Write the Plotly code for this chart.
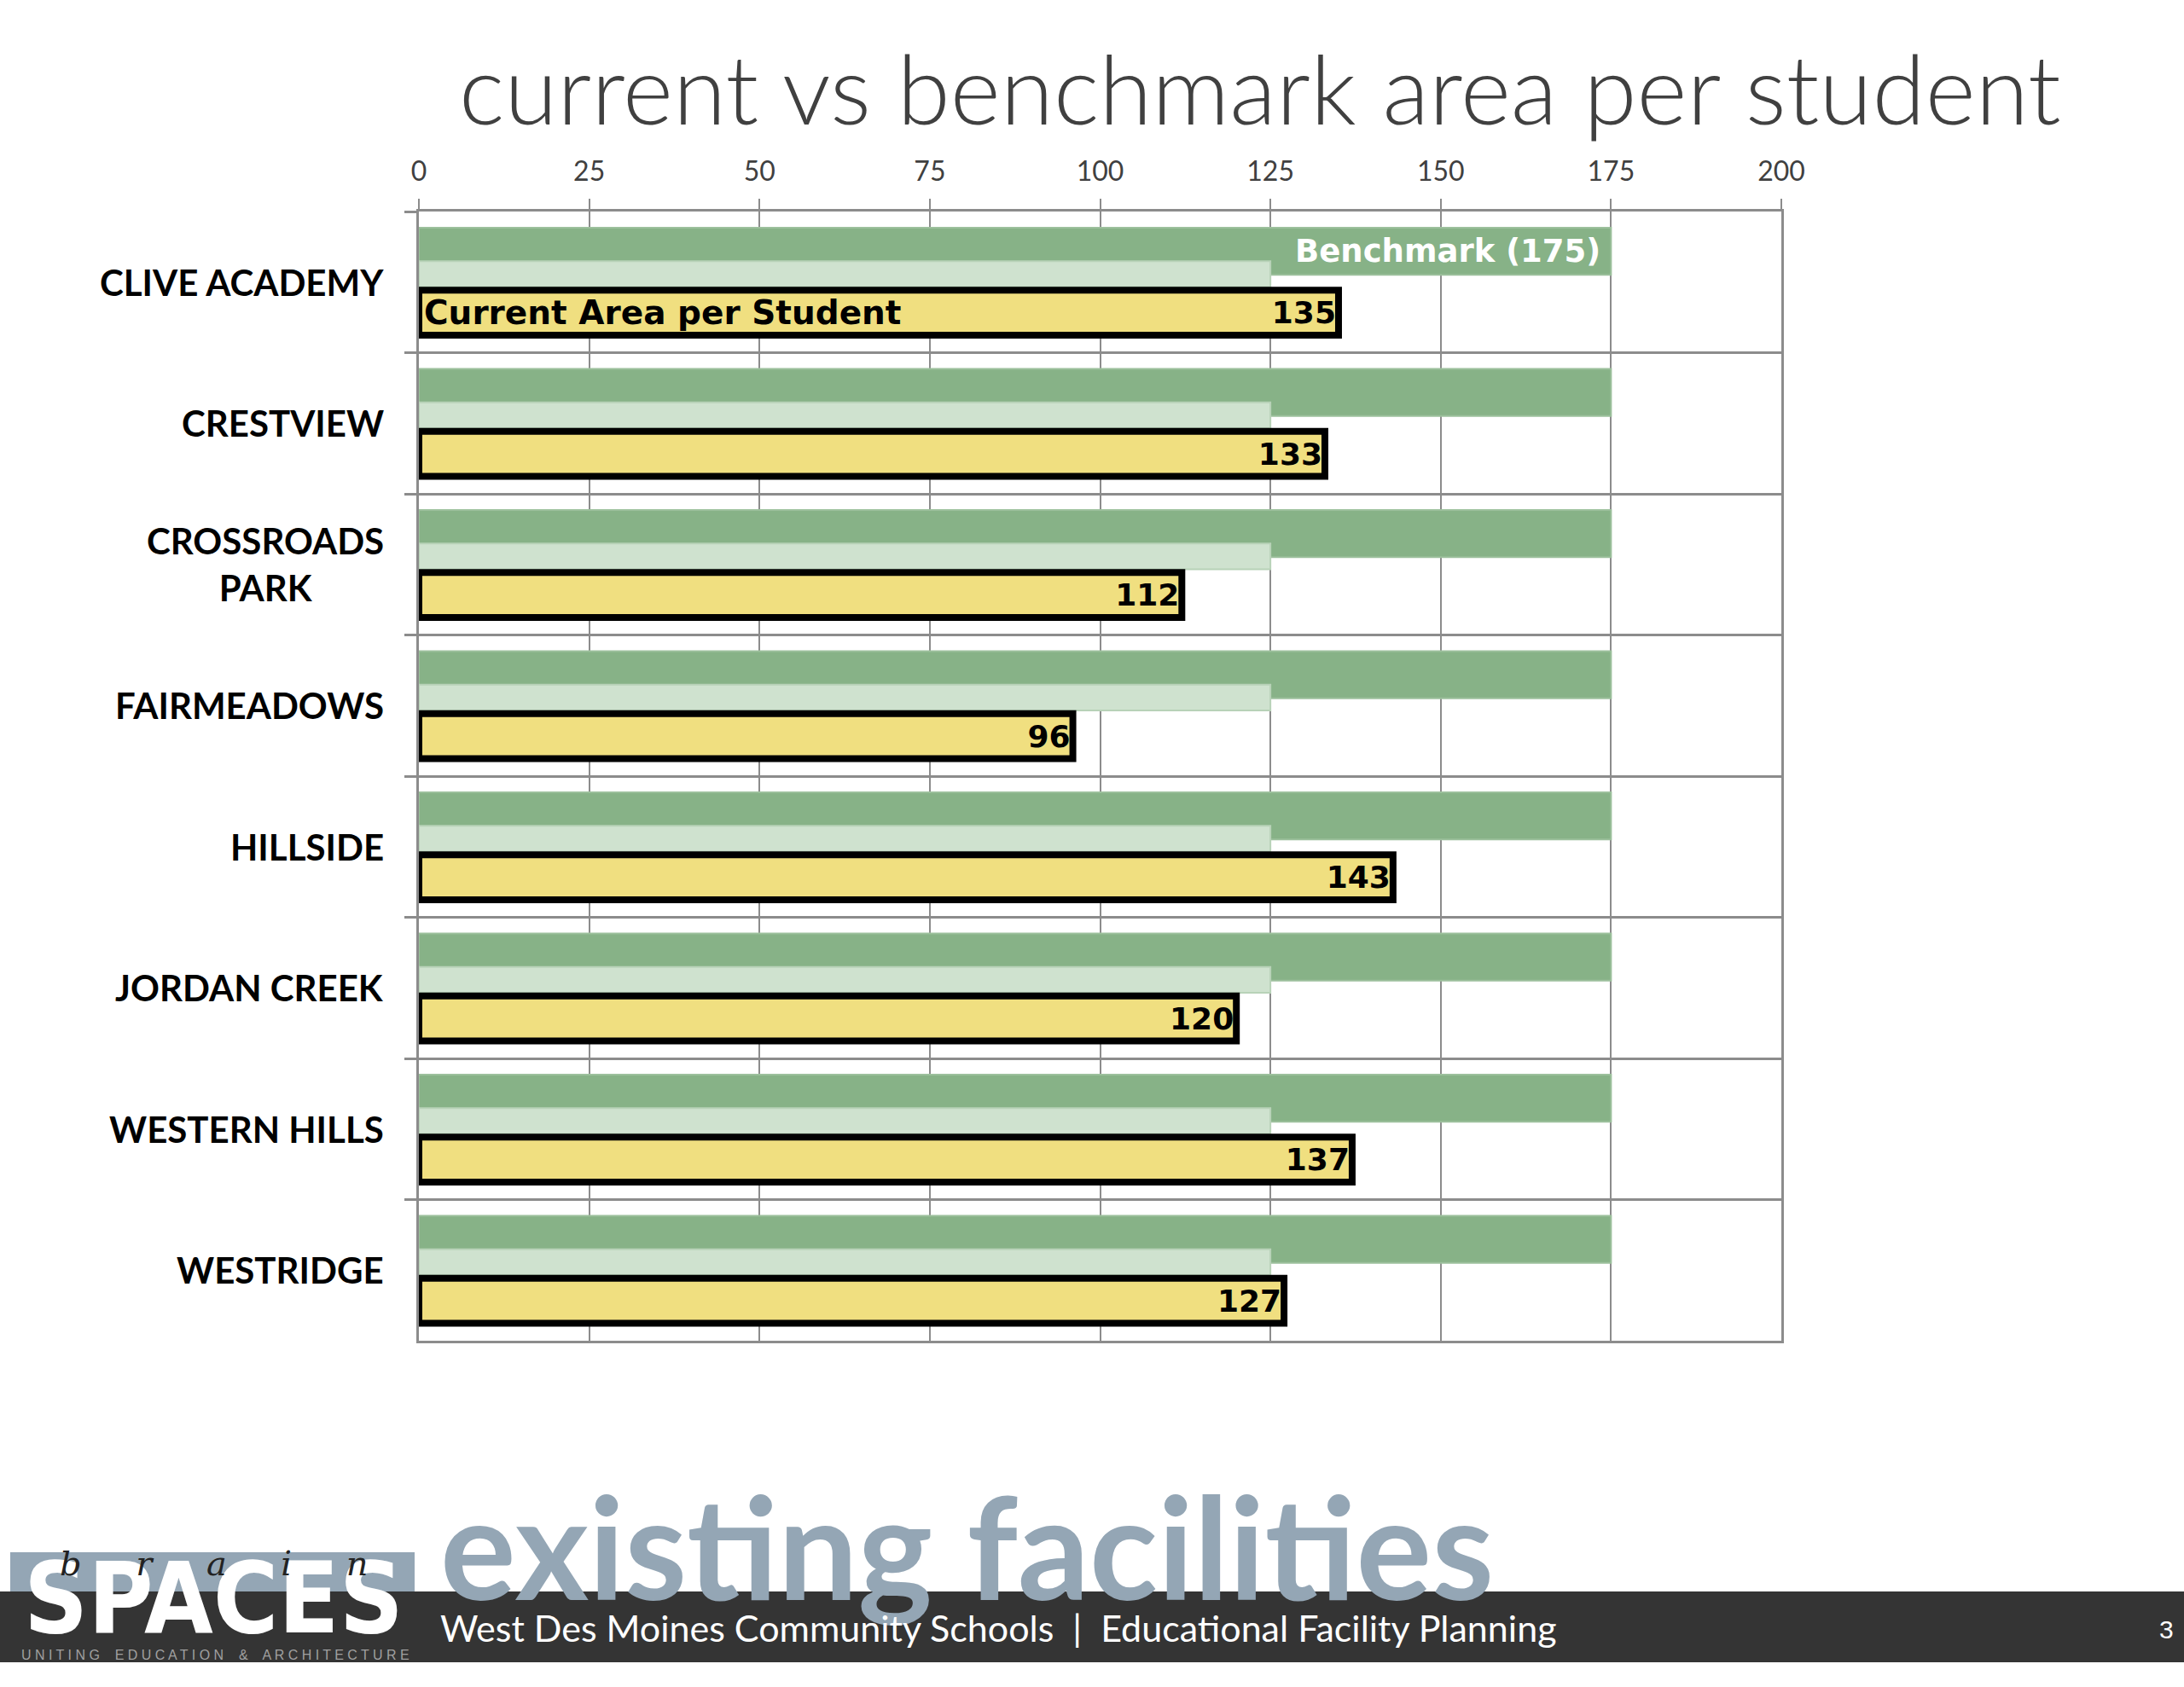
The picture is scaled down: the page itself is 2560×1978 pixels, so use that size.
import plotly.graph_objects as go

# ---------------- data ----------------
schools = ["CLIVE ACADEMY", "CRESTVIEW", "CROSSROADS PARK", "FAIRMEADOWS",
           "HILLSIDE", "JORDAN CREEK", "WESTERN HILLS", "WESTRIDGE"]
school_labels = ["CLIVE ACADEMY", "CRESTVIEW", "CROSSROADS<br>PARK", "FAIRMEADOWS",
                 "HILLSIDE", "JORDAN CREEK", "WESTERN HILLS", "WESTRIDGE"]
current_area = [135, 133, 112, 96, 143, 120, 137, 127]
benchmark_area = [175, 175, 175, 175, 175, 175, 175, 175]
reference_area = [125, 125, 125, 125, 125, 125, 125, 125]
x_ticks = [0, 25, 50, 75, 100, 125, 150, 175, 200]

W, H = 2560, 1978
GRID = "#8c8c8c"

def px(x):
    return x / W

def py(y):
    return 1 - y / H

fig = go.Figure()

fig.add_trace(go.Bar(
    y=schools, x=benchmark_area, orientation="h", name="Benchmark",
    offset=-0.385, width=0.333,
    marker=dict(color="#87b287", line=dict(color="#9cc09c", width=2)),
    hoverinfo="x+y",
))
fig.add_trace(go.Bar(
    y=schools, x=reference_area, orientation="h", name="Reference",
    offset=-0.148, width=0.182,
    marker=dict(color="#cfe2cf", line=dict(color="#b8d2b8", width=2)),
    hoverinfo="x+y",
))
fig.add_trace(go.Bar(
    y=schools, x=current_area, orientation="h", name="Current Area per Student",
    offset=0.058, width=0.318,
    marker=dict(color="#f0df80", line=dict(color="#000000", width=8)),
    text=[str(v) for v in current_area], textposition="inside",
    insidetextanchor="end", constraintext="none",
    textfont=dict(family="DejaVu Sans", size=36, color="#000000", weight="bold"),
    hoverinfo="x+y",
))

fig.update_layout(
    width=W, height=H,
    margin=dict(l=0, r=0, t=0, b=0, pad=0, autoexpand=False),
    paper_bgcolor="white", plot_bgcolor="white",
    barmode="overlay", showlegend=False,
    xaxis=dict(
        domain=[px(491), px(2088)], range=[0, 200], side="top", automargin=False,
        tickvals=x_ticks, ticktext=[str(t) for t in x_ticks],
        ticks="outside", ticklen=12, tickwidth=2, tickcolor=GRID,
        tickfont=dict(family="Lato", size=32, color="#404040"),
        showgrid=True, gridcolor=GRID, gridwidth=2,
        showline=True, linecolor=GRID, linewidth=3, mirror=True,
        zeroline=False, ticklabelstandoff=8,
    ),
    yaxis=dict(
        domain=[py(1572), py(248)], automargin=False,
        type="category", categoryorder="array", categoryarray=schools,
        range=[7.5, -0.5],
        tickson="boundaries", ticks="outside", ticklen=14, tickwidth=3,
        tickcolor=GRID, showticklabels=False,
        showgrid=True, gridcolor=GRID, gridwidth=3,
        showline=True, linecolor=GRID, linewidth=3, mirror=True,
        zeroline=False,
    ),
)

ann = []
# category labels
for i, lab in enumerate(school_labels):
    ann.append(dict(
        xref="paper", yref="y", x=px(452), y=i, xanchor="right", yanchor="middle",
        text=lab, showarrow=False, align="center",
        font=dict(family="Lato", size=42, color="#000000", weight="bold"),
    ))

# in-bar series labels
ann.append(dict(
    xref="x", yref="y", x=benchmark_area[0], y=-0.218, xanchor="right", yanchor="middle",
    xshift=-10, text="Benchmark (175)", showarrow=False,
    font=dict(family="DejaVu Sans", size=37, color="#ffffff", weight="bold"),
))
ann.append(dict(
    xref="x", yref="y", x=0, y=0.217, xanchor="left", yanchor="middle",
    xshift=4, text="Current Area per Student", showarrow=False,
    font=dict(family="DejaVu Sans", size=39, color="#000000", weight="bold"),
))

# title
ann.append(dict(
    xref="paper", yref="paper", x=px(536), y=py(102), xanchor="left", yanchor="middle",
    text="current vs benchmark area per student", showarrow=False,
    font=dict(family="Lato", size=113, color="#404040", weight=300),
))

# footer texts
ann.append(dict(
    xref="paper", yref="paper", x=px(514), y=py(1811), xanchor="left", yanchor="middle",
    text="existing facilities", showarrow=False,
    font=dict(family="Lato", size=166, color="#94a6b5", weight="bold"),
))
ann.append(dict(
    xref="paper", yref="paper", x=px(514), y=py(1908), xanchor="left", yanchor="middle",
    text="West Des Moines Community Schools  |  Educational Facility Planning",
    showarrow=False, font=dict(family="Lato", size=43, color="#ffffff"),
))
ann.append(dict(
    xref="paper", yref="paper", x=px(2550), y=py(1910), xanchor="right", yanchor="middle",
    text="3", showarrow=False, font=dict(family="Liberation Sans", size=30, color="#ffffff"),
))
# logo approximation
ann.append(dict(
    xref="paper", yref="paper", x=px(250), y=py(1873), xanchor="center", yanchor="middle",
    text="SPACES", showarrow=False,
    font=dict(family="Liberation Sans Narrow, DejaVu Sans Condensed, Liberation Sans",
              size=116, color="#ffffff", weight="bold"),
))
ann.append(dict(
    xref="paper", yref="paper", x=px(250), y=py(1833), xanchor="center", yanchor="middle",
    text="<i>b     r     a     i     n</i>", showarrow=False,
    font=dict(family="DejaVu Serif", size=40, color="#222222"),
))
ann.append(dict(
    xref="paper", yref="paper", x=px(252), y=py(1940), xanchor="center", yanchor="middle",
    text="U N I T I N G    E D U C A T I O N    &    A R C H I T E C T U R E",
    showarrow=False, font=dict(family="Liberation Sans", size=16, color="#a0a0a0"),
))

fig.update_layout(
    annotations=ann,
    shapes=[
        dict(type="rect", xref="paper", yref="paper", x0=0, x1=1, y0=py(1949), y1=py(1866),
             fillcolor="#343434", line=dict(width=0), layer="below"),
        dict(type="rect", xref="paper", yref="paper", x0=px(12), x1=px(486), y0=py(1866), y1=py(1820),
             fillcolor="#94a6b5", line=dict(width=0), layer="below"),
    ],
)

fig.write_html("out.html")
